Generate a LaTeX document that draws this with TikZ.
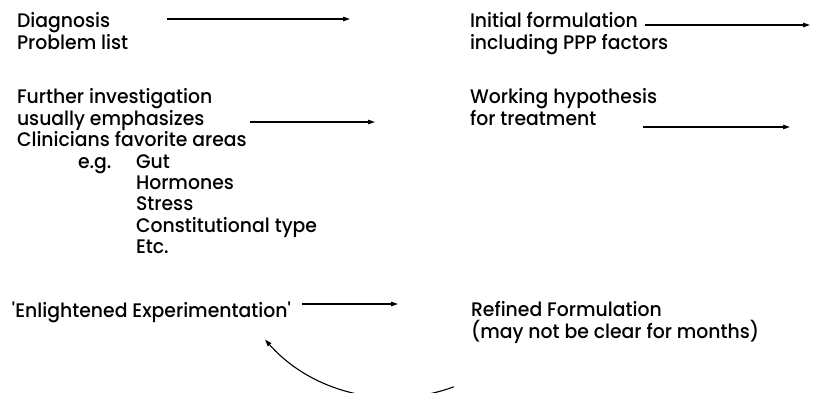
\documentclass[tikz,border=0pt]{standalone}
\usepackage{fontspec}
\setmainfont{Poppins}[UprightFont=* Medium, FakeStretch=0.96]
\usetikzlibrary{arrows.meta}
\tikzset{
  txt/.style={anchor=base west, inner sep=0pt, outer sep=0pt, font=\fontsize{19.6pt}{21pt}\selectfont, text=black},
  arr/.style={line width=1.1pt, -{Triangle[length=7pt,width=4.5pt]}},
}
\begin{document}
\begin{tikzpicture}[x=1pt,y=1pt]
\useasboundingbox (0,0) rectangle (813,-393);
\clip (0,0) rectangle (813,-393);
% left column
\node[txt] (diag) at (17,-28) {Diagnosis};
\node[txt] (prob) at (17,-50) {Problem list};
\node[txt] (fur) at (17,-104) {Further investigation};
\node[txt] (usu) at (17,-125.3) {usually emphasizes};
\node[txt] (cli) at (17,-146.6) {Clinicians favorite areas};
\node[txt] (eg) at (78,-168) {e.g.};
\node[txt] (gut) at (136,-168) {Gut};
\node[txt] (hor) at (136,-189.3) {Hormones};
\node[txt] (str) at (136,-210.6) {Stress};
\node[txt] (con) at (136,-232) {Constitutional type};
\node[txt] (etc) at (136,-253.3) {Etc.};
\node[txt] (enl) at (12,-317) {\textquotesingle Enlightened Experimentation\textquotesingle};
% right column
\node[txt] (ini) at (470,-28) {Initial formulation};
\node[txt] (inc) at (470,-50) {including PPP factors};
\node[txt] (wor) at (470,-104) {Working hypothesis};
\node[txt] (for) at (470,-125.3) {for treatment};
\node[txt] (ref) at (471,-316) {Refined Formulation};
\node[txt] (may) at (471,-338) {(may not be clear for months)};
% arrow end points
\coordinate (a1s) at (167,-19);  \coordinate (a1e) at (350,-19);
\coordinate (a2s) at (645,-25);  \coordinate (a2e) at (810,-25);
\coordinate (a3s) at (250,-122); \coordinate (a3e) at (375,-122);
\coordinate (a4s) at (643,-127); \coordinate (a4e) at (790,-127);
\coordinate (a5s) at (302,-304); \coordinate (a5e) at (398,-304);
\coordinate (fbs) at (453.8,-386.8);
\draw[arr] (a1s) -- (a1e);
\draw[arr] (a2s) -- (a2e);
\draw[arr] (a3s) -- (a3e);
\draw[arr] (a4s) -- (a4e);
\draw[arr] (a5s) -- (a5e);
\draw[arr] (fbs) arc[start angle=-69.7, end angle=-138.4, radius=172.5];
\end{tikzpicture}
\end{document}
